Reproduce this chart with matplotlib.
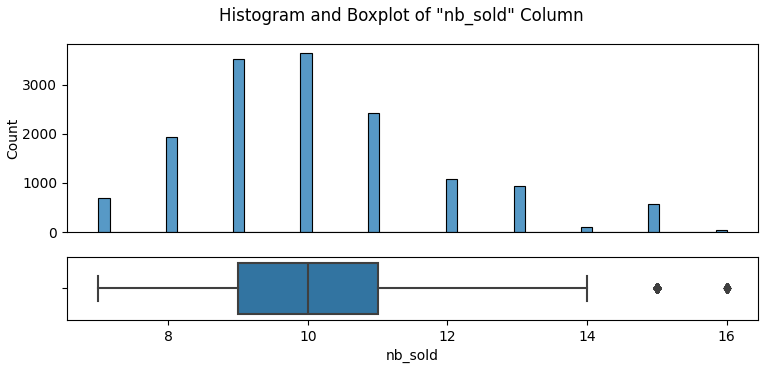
import matplotlib
matplotlib.use("Agg")
import matplotlib.pyplot as plt
import numpy as np
import pandas as pd
import seaborn as sns

# value counts of nb_sold
nb_sold_values = [7, 8, 9, 10, 11, 12, 13, 14, 15, 16]
nb_sold_counts = [683, 1933, 3525, 3648, 2425, 1086, 929, 102, 567, 34]

df = pd.DataFrame({"nb_sold": np.repeat(nb_sold_values, nb_sold_counts)})

fig = plt.figure(figsize=(7.68, 3.67), dpi=100)
ax_hist = fig.add_axes([0.0872, 0.3678, 0.900, 0.5123])
ax_box = fig.add_axes([0.0872, 0.1281, 0.900, 0.1717], sharex=ax_hist)

# histogram
sns.histplot(data=df, x="nb_sold", ax=ax_hist)
ax_hist.set_xlabel("")
ax_hist.set_ylabel("Count", labelpad=1)
ax_hist.tick_params(axis="x", labelbottom=False, bottom=False)

# boxplot, old seaborn look
gray = "#3f3f3f"
box_color = "#3274a1"
ax_box.boxplot(df["nb_sold"], orientation="horizontal", positions=[0], widths=0.8,
               patch_artist=True,
               boxprops=dict(facecolor=box_color, edgecolor=gray, linewidth=1.5),
               medianprops=dict(color=gray, linewidth=1.5),
               whiskerprops=dict(color=gray, linewidth=1.5),
               capprops=dict(color=gray, linewidth=1.5),
               flierprops=dict(marker="d", markerfacecolor=gray, markeredgecolor=gray,
                               markersize=5))
ax_box.set_ylim(0.5, -0.5)
ax_box.set_yticks([0])
ax_box.set_yticklabels([""])
ax_box.set_xlim(6.55, 16.45)
ax_box.set_xticks([8, 10, 12, 14, 16])
ax_box.set_xticklabels(["8", "10", "12", "14", "16"])
ax_box.set_xlabel("nb_sold")

fig.suptitle('Histogram and Boxplot of "nb_sold" Column', x=0.523, y=0.956,
             va="center", fontsize=12)

fig.savefig("out.png", dpi=100)
